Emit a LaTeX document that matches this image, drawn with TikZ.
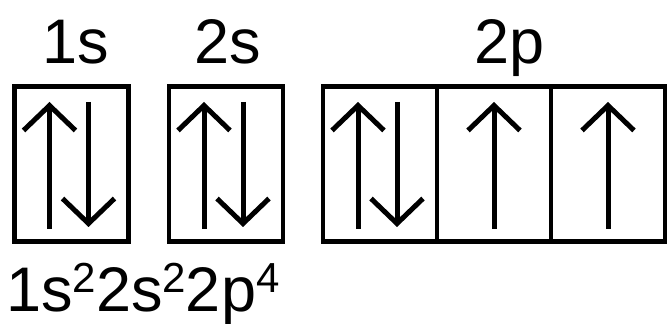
\documentclass[tikz,border=0pt]{standalone}
\usepackage{fontspec}
\setmainfont{Liberation Sans}
\usetikzlibrary{arrows.meta,calc,positioning}
\tikzset{>={Straight Barb[length=25pt,width=52pt]}}
\tikzset{orbital/.style={draw, line width=4.5pt, outer sep=0pt, minimum width=114pt, minimum height=155pt, inner sep=0pt}}
\tikzset{spin/.style={->, line width=5pt}}
\tikzset{sublabel/.style={anchor=base, inner sep=0pt, font=\fontsize{63}{70}\selectfont}}
\newcommand{\orbsup}[1]{\raisebox{19pt}{\fontsize{42}{42}\selectfont #1}}

\begin{document}
\begin{tikzpicture}[x=1pt, y=1pt]
          \useasboundingbox (0,0) rectangle (667,324);
          % orbital boxes
          \node[orbital] (s1) at (71.5,160) {};
          \node[orbital] (s2) at (226,160) {};
          \node[orbital] (p1) at (380,160) {};
          \node[orbital, anchor=west] (p2) at (p1.east) {};
          \node[orbital, anchor=west] (p3) at (p2.east) {};
          % labels
          \node[sublabel] (l1) at (76,260) {1s};
          \node[sublabel] (l2) at (228,260) {2s};
          \node[sublabel] (l3) at (510,260) {2p};
          \node[sublabel, anchor=base west] (conf) at (6,12) {1s\orbsup{2}2s\orbsup{2}2p\orbsup{4}};
          % paired electrons
          \foreach \b in {s1,s2,p1} {
            \draw[spin] ($(\b.center)+(-22,-65)$) -- ($(\b.center)+(-22,62)$);
            \draw[spin] ($(\b.center)+(17,62)$) -- ($(\b.center)+(17,-63)$);
          }
          % unpaired electrons
          \foreach \b in {p2,p3} {
            \draw[spin] ($(\b.center)+(0,-65)$) -- ($(\b.center)+(0,62)$);
          }
        \end{tikzpicture}
\end{document}
